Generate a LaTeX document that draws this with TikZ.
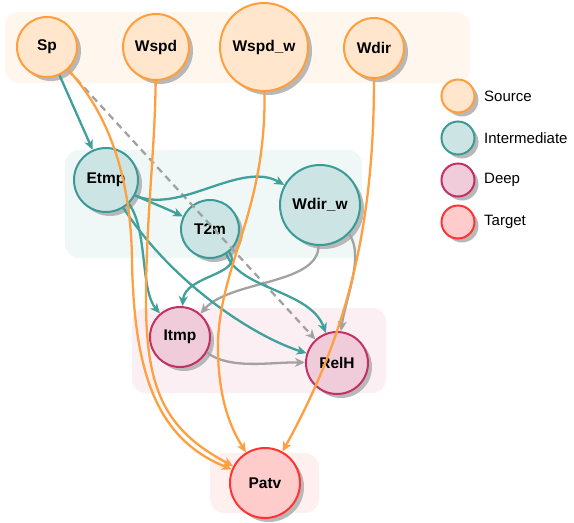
\documentclass[tikz,border=0pt]{standalone}
\usepackage{fontspec}
\setmainfont{Liberation Sans}
\usetikzlibrary{arrows.meta,shadows}

\definecolor{srcline}{HTML}{FF9E3B}
\definecolor{srcfill}{HTML}{FFE6CC}
\definecolor{srcbg}{HTML}{FFF6ED}
\definecolor{midline}{HTML}{3A9A96}
\definecolor{midfill}{HTML}{CCE5E4}
\definecolor{midbg}{HTML}{EFF8F7}
\definecolor{deepline}{HTML}{C23066}
\definecolor{deepfill}{HTML}{F0CCDA}
\definecolor{deepbg}{HTML}{FBEFF3}
\definecolor{tgtline}{HTML}{FF3333}
\definecolor{tgtfill}{HTML}{FFCCCC}
\definecolor{tgtbg}{HTML}{FFF0F0}
\definecolor{edgeorange}{HTML}{FFA040}
\definecolor{edgeteal}{HTML}{40A09C}
\definecolor{edgegray}{HTML}{A2A2A2}

\begin{document}
\begin{tikzpicture}[x=1pt,y=1pt,
  var/.style={circle, line width=2pt, inner sep=0pt,
    font=\bfseries\fontsize{15.5}{18}\selectfont,
    drop shadow={shadow xshift=4pt, shadow yshift=-4pt, fill=black!28, opacity=1}},
  src/.style={var, draw=srcline, fill=srcfill},
  mid/.style={var, draw=midline, fill=midfill},
  deep/.style={var, draw=deepline, fill=deepfill},
  tgt/.style={var, draw=tgtline, fill=tgtfill},
  grp/.style={rounded corners=14pt},
  link/.style={line width=2.3pt, -{Stealth[length=10pt,width=9pt,inset=3pt]}},
  olink/.style={link, edgeorange},
  tlink/.style={link, edgeteal},
  glink/.style={link, edgegray}]
\useasboundingbox (0,0) rectangle (574,-523);

% layers
\fill[grp, srcbg] (5,-12) rectangle (470,-83);
\fill[grp, midbg] (65,-150) rectangle (362,-258);
\fill[grp, deepbg] (132,-308) rectangle (386,-393);
\fill[grp, tgtbg] (210,-453) rectangle (319,-513);

% variables
\node[src, minimum size=60pt] (sp) at (47,-47) {Sp};
\node[src, minimum size=66pt] (wspd) at (156,-47) {Wspd};
\node[src, minimum size=88pt] (wspdw) at (264,-47) {Wspd\_w};
\node[src, minimum size=60pt] (wdir) at (374,-48) {Wdir};
\node[mid, minimum size=64pt] (etmp) at (106,-180) {Etmp};
\node[mid, minimum size=58pt] (t2m) at (210,-229) {T2m};
\node[mid, minimum size=80pt] (wdirw) at (320,-205) {Wdir\_w};
\node[deep, minimum size=60pt] (itmp) at (180,-337) {Itmp};
\node[deep, minimum size=62pt] (relh) at (337,-363) {RelH};
\node[tgt, minimum size=70pt] (patv) at (265,-483) {Patv};

% legend
\foreach \s/\l [count=\i] in {src/Source,mid/Intermediate,deep/Deep,tgt/Target} {
  \node[\s, minimum size=33pt] (key\i) at (458,-96-42*\i+42) {};
  \node[anchor=west, inner sep=0pt, font=\fontsize{15}{18}\selectfont] at (484,-96-42*\i+42) {\l};
}

% gray links
\draw[glink, dash pattern=on 7pt off 5pt] (sp) -- (relh);
\draw[glink] (wdirw.-92) .. controls (318,-285) and (230,-280) .. (itmp);
\draw[glink] (wdirw.-45) .. controls (365,-255) and (345,-300) .. (relh);
\draw[glink] (itmp.-30) .. controls (230,-370) and (270,-362) .. (relh);

% teal links
\draw[tlink] (sp) -- (etmp);
\draw[tlink] (etmp.-28) .. controls (150,-202) and (165,-208) .. (t2m);
\draw[tlink] (etmp.-28) .. controls (180,-215) and (240,-160) .. (wdirw);
\draw[tlink] (etmp.-46) .. controls (148,-230) and (140,-290) .. (itmp);
\draw[tlink] (etmp.-58) .. controls (170,-280) and (250,-335) .. (relh);
\draw[tlink] (t2m.-50) .. controls (245,-275) and (185,-275) .. (itmp);
\draw[tlink] (t2m.-57) .. controls (240,-290) and (310,-290) .. (relh);

% orange links
\draw[olink] (sp) .. controls (110,-115) and (131,-180) .. (132,-260)
  .. controls (134,-380) and (160,-440) .. (patv);
\draw[olink] (wspd) .. controls (155,-150) and (146,-220) .. (146,-300)
  .. controls (146,-390) and (165,-430) .. (patv);
\draw[olink] (wspdw) .. controls (266,-210) and (222,-260) .. (218,-340)
  .. controls (217,-400) and (232,-430) .. (patv);
\draw[olink] (wdir) .. controls (374,-220) and (350,-330) .. (patv);
\end{tikzpicture}
\end{document}
